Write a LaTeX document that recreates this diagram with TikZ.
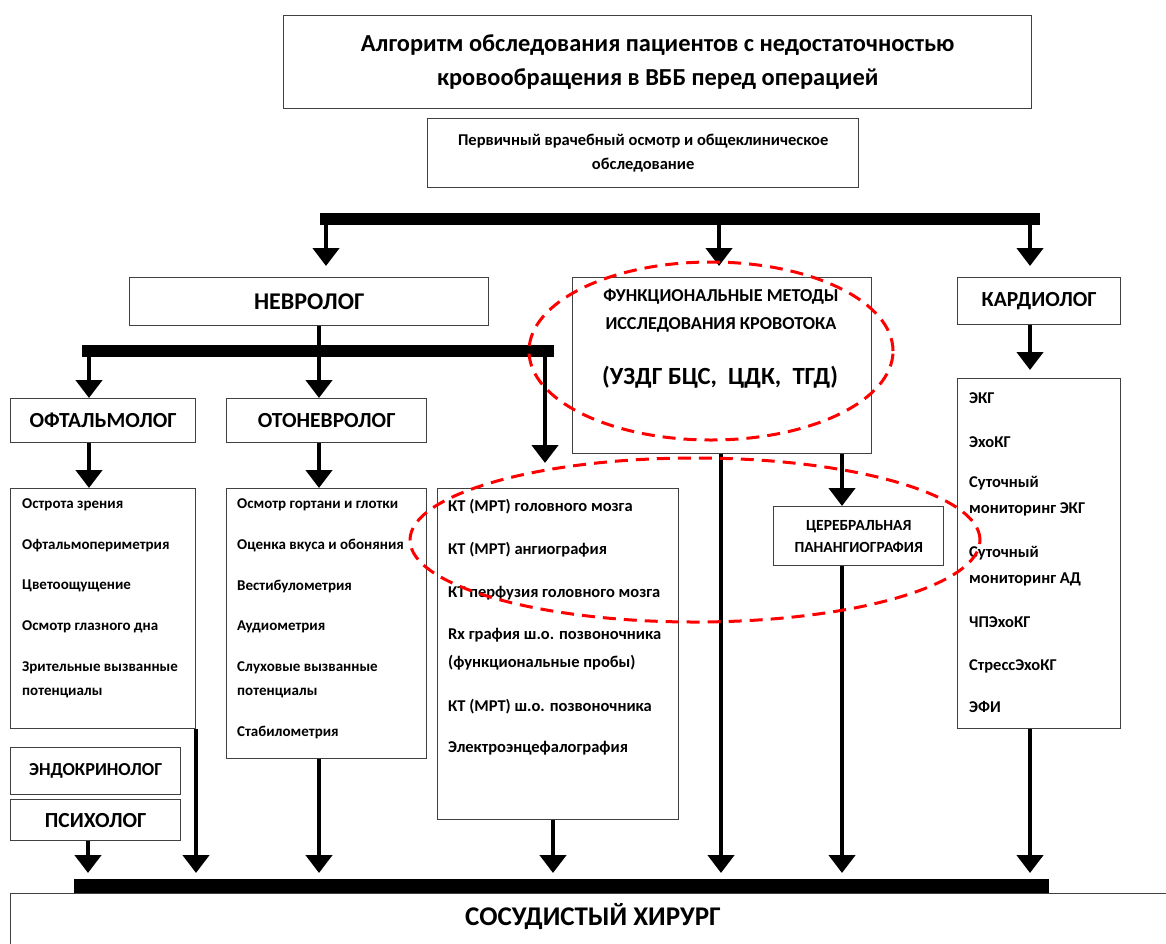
\documentclass[tikz,border=0pt]{standalone}
\usepackage{fontspec}
\setmainfont{Carlito}
\usetikzlibrary{arrows.meta}
\begin{document}
\begin{tikzpicture}[x=1pt,y=-1pt,
 box/.style={draw=black!75, line width=1.4pt, fill=white, inner sep=0pt, anchor=north west, align=center},
 item/.style={anchor=west, inner sep=0pt, align=left, font=\bfseries\fontsize{15}{24}\selectfont},
 itemb/.style={anchor=west, inner sep=0pt, align=left, font=\bfseries\fontsize{16.5}{26}\selectfont},
 hdr/.style={font=\bfseries\fontsize{21.5}{24}\selectfont},
 arr/.style={line width=4.5pt, -{Triangle[width=26pt,length=18pt]}},
 conn/.style={line width=4.5pt},
 bar/.style={line width=12pt},
 oval/.style={draw=red, line width=3pt, dash pattern=on 13pt off 8pt}
]
\useasboundingbox (0,0) rectangle (1166,943);

% boxes
\node[box, minimum width=748pt, minimum height=93pt, font=\bfseries\fontsize{24.4}{34}\selectfont] (title) at (283,15)
 {Алгоритм обследования пациентов с недостаточностью\\кровообращения в ВББ перед операцией};
\node[box, minimum width=431pt, minimum height=69pt, font=\bfseries\fontsize{16.5}{24}\selectfont] (prim) at (427,118)
 {Первичный врачебный осмотр и общеклиническое\\обследование};
\node[box, minimum width=359pt, minimum height=48pt, font=\bfseries\fontsize{24}{24}\selectfont] (neuro) at (129,277) {НЕВРОЛОГ};
\node[box, minimum width=299pt, minimum height=176pt] (func) at (572,277) {};
\node[box, hdr, minimum width=163pt, minimum height=47pt] (cardio) at (957,277) {КАРДИОЛОГ};
\node[box, hdr, minimum width=185pt, minimum height=44pt] (ophth) at (10,398) {ОФТАЛЬМОЛОГ};
\node[box, hdr, minimum width=200pt, minimum height=44pt] (oto) at (226,398) {ОТОНЕВРОЛОГ};
\node[box, minimum width=185pt, minimum height=240pt] (ophthl) at (10,488) {};
\node[box, minimum width=200pt, minimum height=270pt] (otol) at (226,488) {};
\node[box, minimum width=241pt, minimum height=331pt] (ktl) at (437,488) {};
\node[box, minimum width=170pt, minimum height=59pt, font=\bfseries\fontsize{15.5}{22}\selectfont] (cp) at (773,506) {ЦЕРЕБРАЛЬНАЯ\\ПАНАНГИОГРАФИЯ};
\node[box, minimum width=163pt, minimum height=350pt] (cardl) at (957,378) {};
\node[box, minimum width=170pt, minimum height=47pt, font=\bfseries\fontsize{18.3}{24}\selectfont] (endo) at (10,747) {ЭНДОКРИНОЛОГ};
\node[box, hdr, minimum width=170pt, minimum height=41pt] (psych) at (10,799) {ПСИХОЛОГ};
\node[box, minimum width=1170pt, minimum height=90pt] (surg) at (10,893) {};

% texts inside boxes
\node[inner sep=0pt, font=\bfseries\fontsize{18.2}{28}\selectfont, align=center] (functxt) at (721,311)
 {ФУНКЦИОНАЛЬНЫЕ МЕТОДЫ\\ИССЛЕДОВАНИЯ КРОВОТОКА};
\node[inner sep=0pt, font=\bfseries\fontsize{24.7}{28}\selectfont] (functxt2) at (720,377) {(УЗДГ БЦС,\ \ ЦДК,\ \ ТГД)};
\node[inner sep=0pt, font=\bfseries\fontsize{27}{28}\selectfont] (surgtxt) at (593,917) {СОСУДИСТЫЙ ХИРУРГ};

\node[item] (o1) at (22,505) {Острота зрения};
\node[item] (o2) at (22,546) {Офтальмопериметрия};
\node[item] (o3) at (22,586) {Цветоощущение};
\node[item] (o4) at (22,627) {Осмотр глазного дна};
\node[item] (o5) at (22,680) {Зрительные вызванные\\потенциалы};

\node[item] (t1) at (237,505) {Осмотр гортани и глотки};
\node[item] (t2) at (237,546) {Оценка вкуса и обоняния};
\node[item] (t3) at (237,586) {Вестибулометрия};
\node[item] (t4) at (237,627) {Аудиометрия};
\node[item] (t5) at (237,680) {Слуховые вызванные\\потенциалы};
\node[item] (t6) at (237,732) {Стабилометрия};

\node[itemb] (k1) at (448,507) {КТ (МРТ) головного мозга};
\node[itemb] (k2) at (448,550) {КТ (МРТ) ангиография};
\node[itemb] (k3) at (448,593) {КТ перфузия головного мозга};
\node[itemb, font=\bfseries\fontsize{16.5}{28}\selectfont] (k4) at (448,649) {Rx графия ш.о. позвоночника\\(функциональные пробы)};
\node[itemb] (k5) at (448,707) {КТ (МРТ) ш.о. позвоночника};
\node[itemb] (k6) at (448,748) {Электроэнцефалография};

\node[itemb] (c1) at (969,398) {ЭКГ};
\node[itemb] (c2) at (969,442) {ЭхоКГ};
\node[itemb] (c3) at (969,496) {Суточный\\мониторинг ЭКГ};
\node[itemb] (c4) at (969,566) {Суточный\\мониторинг АД};
\node[itemb] (c5) at (969,622) {ЧПЭхоКГ};
\node[itemb] (c6) at (969,666) {СтрессЭхоКГ};
\node[itemb] (c7) at (969,707) {ЭФИ};

% bars
\coordinate (tb1) at (320,219);
\coordinate (tb2) at (1040,219);
\coordinate (ta1) at (326,219);
\coordinate (ta2) at (719,219);
\coordinate (ta3) at (1030,219);
\coordinate (b2L) at (82,351);
\coordinate (b2R) at (554,351);
\coordinate (b2o) at (89,351);
\coordinate (b2a) at (319,351);
\coordinate (b2k) at (545,351);
\coordinate (bbL) at (74,886);
\coordinate (bbR) at (1049,886);
\coordinate (bp) at (88,886);
\coordinate (bo) at (196,886);
\coordinate (ba) at (319,886);
\coordinate (bk) at (553,886);
\coordinate (bf) at (721,886);
\coordinate (bc) at (842,886);
\coordinate (bd) at (1030,886);

\draw[bar] (tb1) -- (tb2);
\draw[bar] (b2L) -- (b2R);
\draw[line width=14pt] (bbL) -- (bbR);

% connectors
\draw[arr, shorten >=11pt] (ta1) -- (ta1 |- neuro.north);
\draw[arr, shorten >=11pt] (ta2) -- (ta2 |- func.north);
\draw[arr, shorten >=11pt] (ta3) -- (ta3 |- cardio.north);
\draw[conn] (b2a |- neuro.south) -- (b2a);
\draw[arr] (b2o) -- (b2o |- ophth.north);
\draw[arr] (b2a) -- (b2a |- oto.north);
\draw[arr, shorten >=25pt] (b2k) -- (b2k |- ktl.north);
\draw[arr] (b2o |- ophth.south) -- (b2o |- ophthl.north);
\draw[arr] (b2a |- oto.south) -- (b2a |- otol.north);
\draw[arr, shorten >=8pt] (ta3 |- cardio.south) -- (ta3 |- cardl.north);
\draw[arr] (bc |- func.south) -- (bc |- cp.north);

\draw[arr, shorten >=13pt] (bp |- psych.south) -- (bp);
\draw[arr, shorten >=13pt] (bo |- ophthl.south) -- (bo);
\draw[arr, shorten >=13pt] (ba |- otol.south) -- (ba);
\draw[arr, shorten >=13pt] (bk |- ktl.south) -- (bk);
\draw[arr, shorten >=13pt] (bf |- func.south) -- (bf);
\draw[arr, shorten >=13pt] (bc |- cp.south) -- (bc);
\draw[arr, shorten >=13pt] (bd |- cardl.south) -- (bd);

% red dashed ovals
\draw[oval] (711,351) ellipse [x radius=182pt, y radius=89pt];
\draw[oval] (695,540) ellipse [x radius=285pt, y radius=82pt];
\end{tikzpicture}
\end{document}
